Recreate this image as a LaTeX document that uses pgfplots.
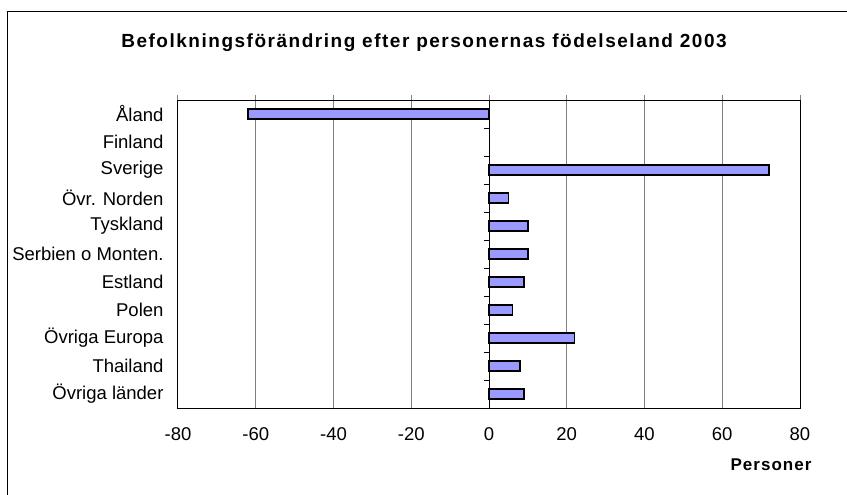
\documentclass[border=0pt]{standalone}
\usepackage{pgfplots}
\pgfplotsset{compat=1.18}
\usepackage{fontspec}
\setmainfont{Liberation Sans}
\newfontfamily\titlefont[LetterSpace=8]{Liberation Sans}
\newfontfamily\labelfont[LetterSpace=6]{Liberation Sans}
\definecolor{barfill}{HTML}{9999FF}
\definecolor{gridgray}{HTML}{808080}
\begin{document}
\begin{tikzpicture}
\useasboundingbox (0pt,0pt) rectangle (847pt,-495pt);
\draw[black, line width=1pt] (7pt,-495pt) -- (7pt,-12pt) -- (847pt,-12pt);
\node[font=\titlefont\bfseries\fontsize{19}{23}\selectfont] at (424pt,-43pt) {Befolkningsförändring efter personernas födelseland 2003};
\node[font=\labelfont\bfseries\fontsize{17}{20}\selectfont, anchor=east] at (815pt,-465pt) {Personer};
\begin{axis}[
  at={(178pt,-408pt)}, anchor=south west,
  scale only axis, width=622pt, height=308pt,
  xbar, bar width=10pt,
  xmin=-80, xmax=80, xtick={-80,-60,...,80},
  ymin=0.5, ymax=11.5, y dir=reverse,
  ytick={1,...,11},
  yticklabels={Åland,Finland,Sverige,Övr. Norden,Tyskland,Serbien o Monten.,Estland,Polen,Övriga Europa,Thailand,Övriga länder},
  ytick style={draw=none},
  xtick pos=right, xticklabel pos=left,
  tick align=outside, major tick length=5pt,
  xtick style={gridgray, line width=1pt},
  xmajorgrids, grid style={gridgray, line width=1pt},
  axis line style={black, line width=1pt},
  /pgf/number format/assume math mode=true,
  tick label style={font=\fontsize{18.5}{22}\selectfont},
  yticklabel style={xshift=-6pt},
  xticklabel style={yshift=-11pt},
  clip=false,
]
% Finland = 0 (no visible bar)
\addplot[fill=barfill, draw=black, line width=1.3pt] coordinates {
  (-62,1) (72,3) (5,4) (10,5) (10,6) (9,7) (6,8) (22,9) (8,10) (9,11)
};
\draw[black, line width=1pt] (axis cs:0,0.5) -- (axis cs:0,11.5);
\pgfplotsinvokeforeach{1.5,2.5,3.5,4.5,5.5,6.5,7.5,8.5,9.5,10.5}{
  \draw[black, line width=1pt] (axis cs:0,#1) -- ++(-5pt,0pt);
}
\end{axis}
\end{tikzpicture}
\end{document}
